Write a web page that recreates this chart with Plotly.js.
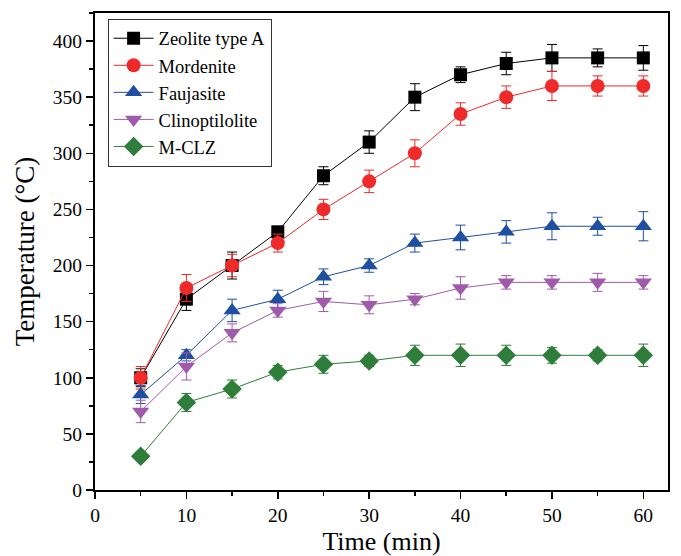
<!DOCTYPE html>
<html>
<head>
<meta charset="utf-8">
<script src="https://cdn.plot.ly/plotly-3.0.1.min.js"></script>
<style>html,body{margin:0;padding:0;background:#fff;}#chart{width:681px;height:556px;}</style>
</head>
<body>
<div id="chart"></div>
<script>
const time = [5, 10, 15, 20, 25, 30, 35, 40, 45, 50, 55, 60];
const seriesNames = ["Zeolite type A", "Mordenite", "Faujasite", "Clinoptilolite", "M-CLZ"];
const zeoliteA = [100, 170, 200, 230, 280, 310, 350, 370, 380, 385, 385, 385];
const zeoliteAErr = [8, 10, 12, 5, 8, 10, 12, 7, 10, 12, 8, 11];
const mordenite = [100, 180, 200, 220, 250, 275, 300, 335, 350, 360, 360, 360];
const mordeniteErr = [10, 12, 10, 8, 9, 10, 12, 10, 10, 13, 9, 9];
const faujasite = [85, 120, 160, 170, 190, 200, 220, 225, 230, 235, 235, 235];
const faujasiteErr = [8, 5, 10, 8, 7, 6, 8, 11, 10, 12, 8, 13];
const clino = [70, 110, 140, 160, 168, 165, 170, 180, 185, 185, 185, 185];
const clinoErr = [10, 12, 8, 6, 9, 8, 5, 10, 6, 6, 8, 6];
const mclz = [30, 78, 90, 105, 112, 115, 120, 120, 120, 120, 120, 120];
const mclzErr = [4, 8, 8, 6, 8, 5, 9, 10, 9, 7, 5, 10];

const ys = [zeoliteA, mordenite, faujasite, clino, mclz];
const errs = [zeoliteAErr, mordeniteErr, faujasiteErr, clinoErr, mclzErr];
const colors = ["#000000", "#EE2A2A", "#1F4FA0", "#A05AAB", "#2F7D3B"];
const symbols = ["square", "circle", "triangle-up", "triangle-down", "diamond"];
const sizes = [13, 14, 15, 15, 15];

const traces = ys.map((y, i) => ({
  x: time, y: y, name: seriesNames[i], type: "scatter", mode: "lines+markers",
  line: {color: colors[i], width: 1},
  marker: {color: colors[i], symbol: symbols[i], size: sizes[i]},
  error_y: {type: "data", array: errs[i], visible: true, color: colors[i], thickness: 1, width: 5}
}));

const font = "Liberation Serif, Times New Roman, serif";
const layout = {
  width: 681, height: 556,
  margin: {l: 95, r: 13, t: 13, b: 66},
  paper_bgcolor: "#fff", plot_bgcolor: "#fff",
  font: {family: font, color: "#000", size: 19},
  showlegend: true,
  legend: {x: 0.022, y: 0.988, xanchor: "left", yanchor: "top",
           bordercolor: "#333", borderwidth: 1, bgcolor: "#fff",
           font: {family: font, size: 18.5}, tracegroupgap: 0, itemwidth: 40},
  xaxis: {
    range: [0, 62.7], tickvals: [0, 10, 20, 30, 40, 50, 60],
    ticks: "outside", ticklen: 7, tickwidth: 1.5, tickcolor: "#000",
    minor: {dtick: 5, tick0: 0, ticks: "outside", ticklen: 4, tickwidth: 1.5, tickcolor: "#000"},
    showline: true, linewidth: 2, linecolor: "#000", mirror: true,
    showgrid: false, zeroline: false,
    tickfont: {family: font, size: 19.5},
    title: {text: "Time (min)", font: {family: font, size: 26}, standoff: 7}
  },
  yaxis: {
    range: [0, 425], tickvals: [0, 50, 100, 150, 200, 250, 300, 350, 400],
    ticks: "outside", ticklen: 7, tickwidth: 1.5, tickcolor: "#000",
    minor: {dtick: 25, tick0: 0, ticks: "outside", ticklen: 4, tickwidth: 1.5, tickcolor: "#000"},
    showline: true, linewidth: 2, linecolor: "#000", mirror: true,
    showgrid: false, zeroline: false,
    tickfont: {family: font, size: 19.5},
    title: {text: "Temperature (°C)", font: {family: font, size: 27}, standoff: 10}
  }
};
Plotly.newPlot("chart", traces, layout, {displayModeBar: false, staticPlot: true});
</script>
</body>
</html>
